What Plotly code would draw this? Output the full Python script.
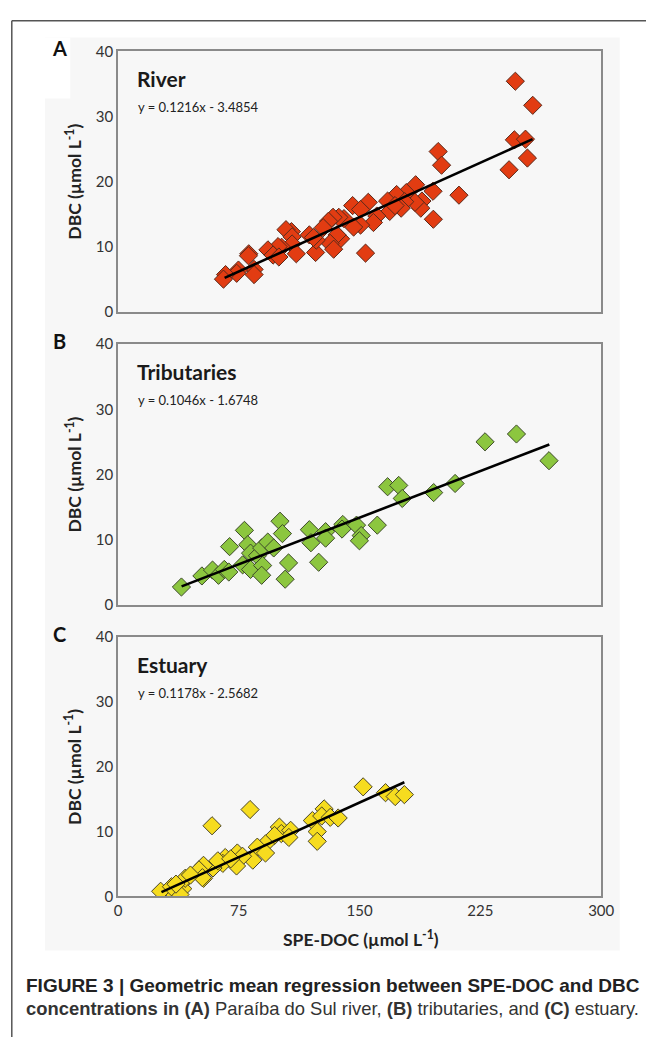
import plotly.graph_objects as go

W, H = 659, 1045

# ---------------- data ----------------
river_x = [246.7, 257.5, 246.1, 253.0, 254.2, 242.8, 198.8, 200.9, 211.7, 184.8,
           195.6, 195.8, 188.7, 188.0, 184.4, 179.0, 173.0, 178.0, 175.8, 167.4,
           168.7, 172.0, 155.4, 145.7, 150.6, 160.7, 158.6, 150.6, 146.3, 153.7,
           140.3, 137.1, 133.5, 130.7, 127.4, 138.2, 136.0, 131.7, 133.9, 122.7,
           123.1, 118.8, 107.7, 104.3, 108.1, 108.1, 101.6, 110.7, 99.4, 93.1,
           96.3, 99.9, 81.2, 81.0, 84.5, 84.5, 74.8, 73.7, 66.8, 65.5, 121.4]
river_y = [35.4, 31.7, 26.4, 26.5, 23.6, 21.8, 24.6, 22.5, 17.9, 19.5,
           18.5, 14.2, 17.0, 15.9, 16.8, 18.3, 18.0, 16.9, 15.9, 17.0,
           15.4, 16.3, 16.8, 16.3, 15.7, 14.7, 13.7, 13.3, 13.0, 9.0,
           14.3, 14.5, 14.5, 13.9, 12.9, 11.2, 11.8, 10.5, 9.6, 9.1,
           11.0, 11.8, 12.3, 12.6, 11.5, 10.4, 9.9, 8.9, 10.0, 9.5,
           8.7, 8.4, 8.9, 8.6, 6.5, 5.7, 6.4, 5.9, 5.7, 5.0, 11.4]
river_line_x = [66.2, 257.4]
river_line_y = [5.2, 26.5]

trib_x = [39.4, 52.1, 58.7, 62.4, 66.0, 68.8, 69.3, 78.5, 77.4, 80.6,
          82.3, 82.3, 86.6, 89.2, 93.0, 96.7, 89.8, 89.2, 100.6, 102.1,
          105.9, 103.8, 118.8, 119.8, 124.6, 128.9, 128.9, 139.6, 139.1, 148.1,
          151.0, 149.9, 161.0, 167.4, 174.3, 176.5, 196.0, 209.3, 227.9, 247.4,
          267.6]
trib_y = [2.7, 4.4, 5.3, 4.5, 5.4, 5.0, 8.9, 11.4, 6.1, 9.2,
          7.9, 5.4, 7.5, 8.7, 9.6, 8.7, 6.0, 4.5, 12.8, 10.9,
          6.4, 3.9, 11.5, 9.5, 6.5, 11.2, 10.2, 12.3, 11.6, 12.2,
          10.6, 9.8, 12.2, 18.1, 18.3, 16.3, 17.2, 18.6, 25.0, 26.2,
          22.1]
trib_line_x = [39.5, 267.8]
trib_line_y = [2.8, 24.6]

est_x = [152.2, 166.1, 172.1, 177.8, 82.0, 58.4, 128.0, 120.7, 126.5, 131.8,
         136.7, 123.7, 123.7, 100.2, 101.4, 107.2, 106.1, 97.2, 91.6, 86.5,
         91.6, 83.7, 74.1, 77.3, 73.6, 66.6, 65.1, 59.0, 53.1, 50.1,
         53.1, 42.0, 40.2, 33.4, 26.5, 38.5, 41.7, 50.3, 52.4, 33.2,
         36.0, 45.0, 62.0, 70.0]
est_y = [16.9, 16.0, 15.4, 15.7, 13.4, 10.9, 13.5, 11.7, 12.4, 12.2,
         12.1, 10.0, 8.5, 10.7, 9.7, 10.2, 9.1, 9.4, 8.1, 7.6,
         6.7, 5.6, 6.7, 6.2, 4.7, 6.0, 5.1, 4.4, 4.8, 3.6,
         2.8, 2.7, 1.2, 0.7, 0.8, 0.3, 2.8, 4.1, 2.9, 1.5,
         1.9, 3.3, 5.5, 5.8]
est_line_x = [27.0, 177.8]
est_line_y = [0.66, 17.6]

panel_names = ["River", "Tributaries", "Estuary"]
panel_letters = ["A", "B", "C"]
equations = ["y = 0.1216x - 3.4854", "y = 0.1046x - 1.6748", "y = 0.1178x - 2.5682"]
y_ticks = [0, 10, 20, 30, 40]
x_ticks = [0, 75, 150, 225, 300]
x_tick_labels = ["0", "75", "150", "225", "300"]
caption_line1 = "<b>FIGURE 3 | Geometric mean regression between SPE-DOC and DBC</b>"
caption_line2 = ("<b>concentrations in (A)</b> Paraíba do Sul river, <b>(B)</b> tributaries, "
                 "and <b>(C)</b> estuary.")

# ---------------- layout helpers ----------------
def fx(p):
    return p / W

def fy(p):
    return 1 - p / H

FONT = "Lato, 'Open Sans', sans-serif"
CAP_FONT = "'Liberation Sans Narrow', 'Liberation Sans', Arial, sans-serif"

series = [
    (river_x, river_y, river_line_x, river_line_y, "#e23c12", "#5b2a1b"),
    (trib_x, trib_y, trib_line_x, trib_line_y, "#8cc63f", "#3d4a2a"),
    (est_x, est_y, est_line_x, est_line_y, "#f6dc1f", "#4a4526"),
]
panel_px = [(42, 307), (340, 605), (638, 902)]  # top, bottom in pixels
x_px = (117, 613)

fig = go.Figure()
annotations = []
for i, (xs, ys, lx, ly, col, edge) in enumerate(series):
    n = "" if i == 0 else str(i + 1)
    fig.add_trace(go.Scatter(
        x=xs, y=ys, mode="markers", xaxis="x" + n, yaxis="y" + n,
        marker=dict(symbol="diamond", size=14, color=col,
                    line=dict(color=edge, width=1)),
        showlegend=False, hoverinfo="skip"))
    fig.add_trace(go.Scatter(
        x=lx, y=ly, mode="lines", xaxis="x" + n, yaxis="y" + n,
        line=dict(color="black", width=2.6), showlegend=False, hoverinfo="skip"))
    top, bot = panel_px[i]
    last = (i == 2)
    fig.layout["xaxis" + n] = dict(
        domain=[fx(x_px[0]), fx(x_px[1])], range=[0, 300], anchor="y" + n,
        showgrid=False, zeroline=False, showline=True, mirror=True,
        linecolor="#8a8a8a", linewidth=1.5,
        tickvals=x_ticks, ticktext=x_tick_labels, showticklabels=last,
        ticks="", tickfont=dict(family=FONT, size=15, color="#333"), ticklen=0)
    fig.layout["yaxis" + n] = dict(
        domain=[fy(bot), fy(top)], range=[0, 40], anchor="x" + n,
        showgrid=False, zeroline=False, showline=True, mirror=True,
        linecolor="#8a8a8a", linewidth=1.5,
        tickvals=y_ticks, ticks="", ticklen=0,
        tickfont=dict(family=FONT, size=15, color="#333"))
    # panel name & equation
    annotations.append(dict(x=fx(134), y=fy(top + 28), xref="paper", yref="paper",
                            text="<b>" + panel_names[i] + "</b>", showarrow=False,
                            xanchor="left", yanchor="middle",
                            font=dict(family=FONT, size=21, color="#1a1a1a")))
    annotations.append(dict(x=fx(135), y=fy(top + 57), xref="paper", yref="paper",
                            text=equations[i], showarrow=False,
                            xanchor="left", yanchor="middle",
                            font=dict(family=FONT, size=13, color="#222")))
    annotations.append(dict(x=fx(57), y=fy(top - 3), xref="paper", yref="paper",
                            text="<b>" + panel_letters[i] + "</b>", showarrow=False,
                            xanchor="center", yanchor="middle",
                            font=dict(family=FONT, size=20, color="#111")))
    annotations.append(dict(x=fx(71), y=fy((top + bot) / 2), xref="paper", yref="paper",
                            text="<b>DBC (µmol L<sup>-1</sup>)</b>", showarrow=False,
                            textangle=-90, xanchor="center", yanchor="middle",
                            font=dict(family=FONT, size=17.5, color="#222")))

annotations.append(dict(x=fx(366), y=fy(945), xref="paper", yref="paper",
                        text="<b>SPE-DOC (µmol L<sup>-1</sup>)</b>", showarrow=False,
                        xanchor="center", yanchor="middle",
                        font=dict(family=FONT, size=17.5, color="#222")))
annotations.append(dict(x=fx(21), y=fy(993), xref="paper", yref="paper",
                        text=caption_line1, showarrow=False, xanchor="left",
                        yanchor="middle", font=dict(family=CAP_FONT, size=19, color="#222")))
annotations.append(dict(x=fx(21), y=fy(1016), xref="paper", yref="paper",
                        text=caption_line2, showarrow=False, xanchor="left",
                        yanchor="middle", font=dict(family=CAP_FONT, size=18.4, color="#333")))

shapes = [
    dict(type="rect", xref="paper", yref="paper", x0=fx(42), x1=fx(632),
         y0=fy(957), y1=fy(28), fillcolor="#f7f7f7", line=dict(width=0), layer="below"),
    dict(type="rect", xref="paper", yref="paper", x0=fx(42), x1=fx(68),
         y0=fy(90), y1=fy(28), fillcolor="#ffffff", line=dict(width=0), layer="below"),
    dict(type="line", xref="paper", yref="paper", x0=fx(8), x1=1,
         y0=fy(11), y1=fy(11), line=dict(color="#555", width=1.5)),
    dict(type="line", xref="paper", yref="paper", x0=fx(8), x1=fx(8),
         y0=fy(11), y1=0, line=dict(color="#555", width=1.5)),
]

fig.update_layout(
    width=W, height=H, margin=dict(l=0, r=0, t=0, b=0),
    paper_bgcolor="white", plot_bgcolor="#fafafa",
    annotations=annotations, shapes=shapes, showlegend=False,
)

fig.write_html("out.html")
